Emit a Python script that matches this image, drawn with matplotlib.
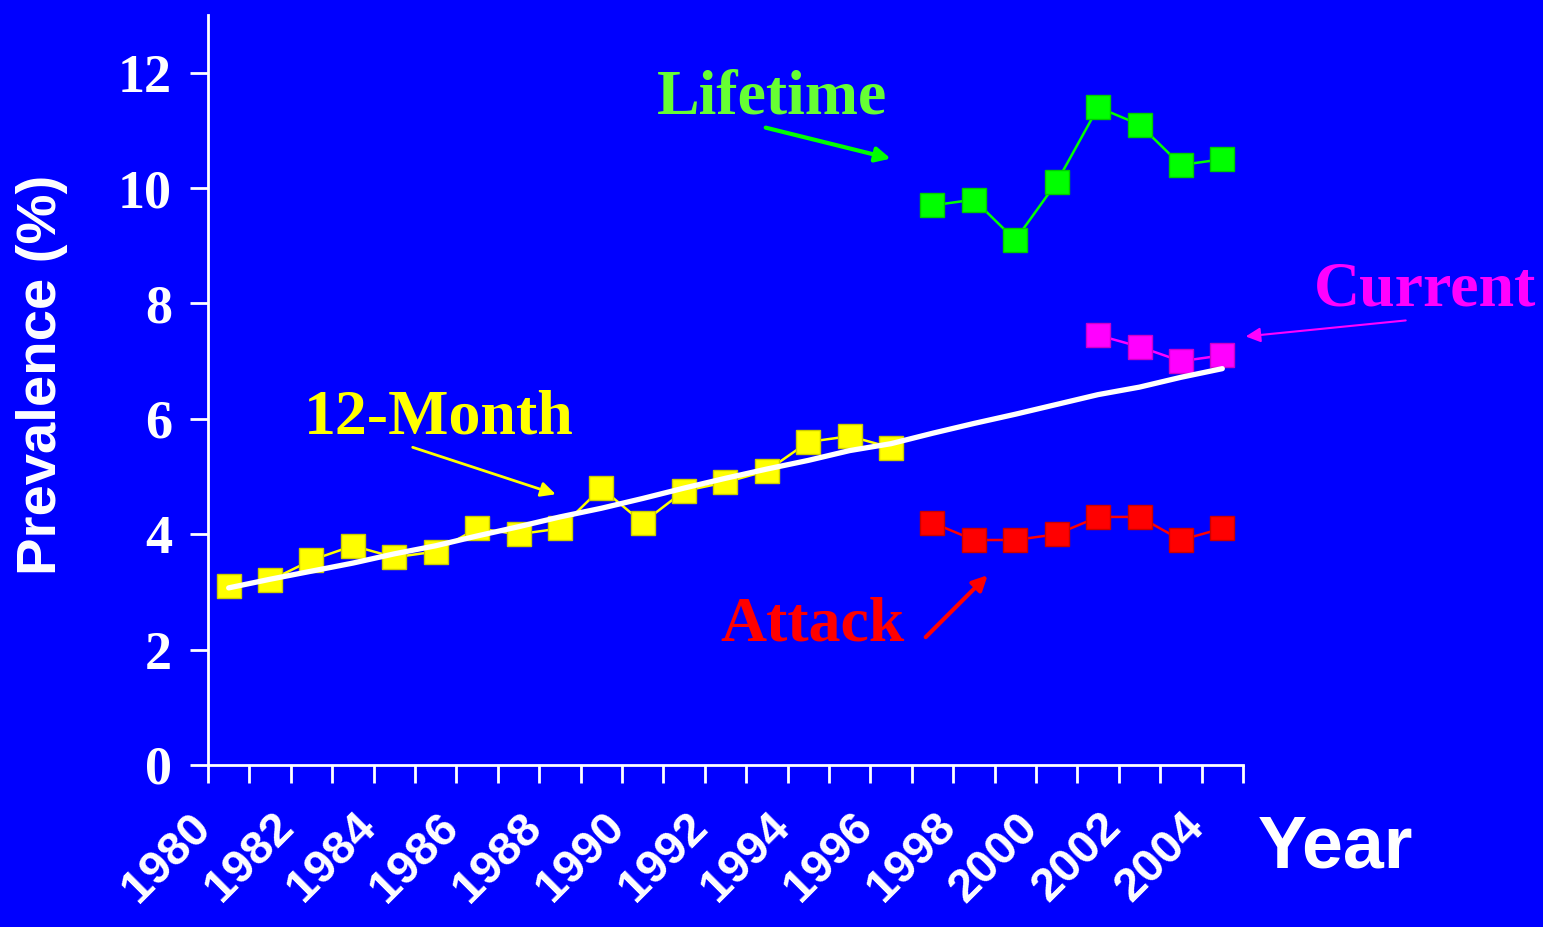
import numpy as np
import matplotlib
matplotlib.use('Agg')
import matplotlib.pyplot as plt
from matplotlib.transforms import ScaledTranslation

years = list(range(1980, 2005))
month12 = [3.1, 3.2, 3.55, 3.8, 3.6, 3.7, 4.1, 4.0, 4.1, 4.8, 4.2, 4.75, 4.9, 5.1, 5.6, 5.7, 5.5]
trend = [3.07, 3.22, 3.36, 3.5, 3.66, 3.8, 3.97, 4.13, 4.3, 4.45, 4.62, 4.8, 4.97, 5.13,
         5.28, 5.45, 5.57, 5.75, 5.92, 6.08, 6.25, 6.42, 6.55, 6.72, 6.87]
lifetime = [9.7, 9.8, 9.1, 10.1, 11.4, 11.1, 10.4, 10.5]
current = [7.45, 7.25, 7.0, 7.1]
attack = [4.2, 3.9, 3.9, 4.0, 4.3, 4.3, 3.9, 4.1]

bg = '#0000FF'
serif = 'Liberation Serif'
sans = 'Liberation Sans'

fig = plt.figure(figsize=(15.43, 9.27), dpi=100, facecolor=bg)
ax = fig.add_axes([208/1543, 1 - 765/927, (1243-208)/1543, (765-15)/927])
ax.set_facecolor(bg)

x_all = np.arange(len(years))
x12 = x_all[:len(month12)]
xlife = x_all[17:17 + len(lifetime)]
xcur = x_all[21:21 + len(current)]
xatt = x_all[17:17 + len(attack)]

ms = 17.5
ax.plot(x12, month12, color='#FFFF00', lw=1.8, marker='s', ms=ms, mfc='#FFFF00', mec='#CCCC00', mew=1, zorder=3)
ax.plot(x_all, trend, color='white', lw=3.8, zorder=4, solid_capstyle='round')
ax.plot(xlife, lifetime, color='#00FF00', lw=1.8, marker='s', ms=ms, mfc='#00FF00', mec='#00CC00', mew=1, zorder=3)
ax.plot(xcur, current, color='#FF00FF', lw=1.8, marker='s', ms=ms, mfc='#FF00FF', mec='#CC00CC', mew=1, zorder=3)
ax.plot(xatt, attack, color='#FF0000', lw=1.8, marker='s', ms=ms, mfc='#FF0000', mec='#CC0000', mew=1, zorder=3)

ax.set_xlim(-0.5, len(years) - 0.5)
ax.set_ylim(0, 13)

for s in ['top', 'right']:
    ax.spines[s].set_visible(False)
for s in ['left', 'bottom']:
    ax.spines[s].set_color('white')
    ax.spines[s].set_linewidth(2)

ax.set_yticks(range(0, 13, 2))
ax.set_yticklabels([str(v) for v in range(0, 13, 2)], fontfamily=serif, fontweight='bold',
                   fontsize=39, color='white')
ax.tick_params(axis='y', length=13, width=2, color='white', pad=13)

ax.set_xticks(x_all[::2])
ax.set_xticklabels([str(y) for y in years[::2]], fontfamily=sans, fontweight='bold',
                   fontsize=34, color='white', rotation=45, ha='right', va='center',
                   rotation_mode='anchor')
ax.set_xticks(np.arange(-0.5, len(years), 1), minor=True)
ax.tick_params(axis='x', which='major', length=0, pad=40)
ax.tick_params(axis='x', which='minor', length=13, width=2, color='white')
off = ScaledTranslation(-25/100, 0, fig.dpi_scale_trans)
for lbl in ax.get_xticklabels():
    lbl.set_transform(lbl.get_transform() + off)

fig.text(42/1543, 1 - 375/927, 'Prevalence (%)', rotation=90, ha='center', va='center',
         fontfamily=sans, fontweight='bold', fontsize=40.5, color='white')
fig.text(1335/1543, 1 - 848/927, 'Year', ha='center', va='center',
         fontfamily=sans, fontweight='bold', fontsize=53, color='white')

def px(x, y):
    return ((x - 228) / 41.4, (765 - y) / 57.75)

labels = [
    ('Lifetime', '#66FF33', '#00FF00', (771, 98), (765, 127), (890, 158), 3),
    ('Current', '#FF00FF', '#FF00FF', (1424, 290), (1405, 320), (1245, 336), 1.5),
    ('12-Month', '#FFFF00', '#FFFF00', (438, 418), (412, 447), (555, 494), 2),
    ('Attack', '#FF0000', '#FF0000', (812, 625), (925, 637), (987, 575), 3),
]
for txt, tc, ac, tpos, tail, head, lw in labels:
    ax.text(*px(*tpos), txt, ha='center', va='center', fontfamily=serif, fontweight='bold',
            fontsize=46, color=tc, clip_on=False)
    ax.annotate('', xy=px(*head), xytext=px(*tail), annotation_clip=False,
                arrowprops=dict(arrowstyle='-|>', color=ac, lw=lw, mutation_scale=22,
                                shrinkA=0, shrinkB=0))

fig.savefig('out.png', dpi=100, facecolor=bg)
